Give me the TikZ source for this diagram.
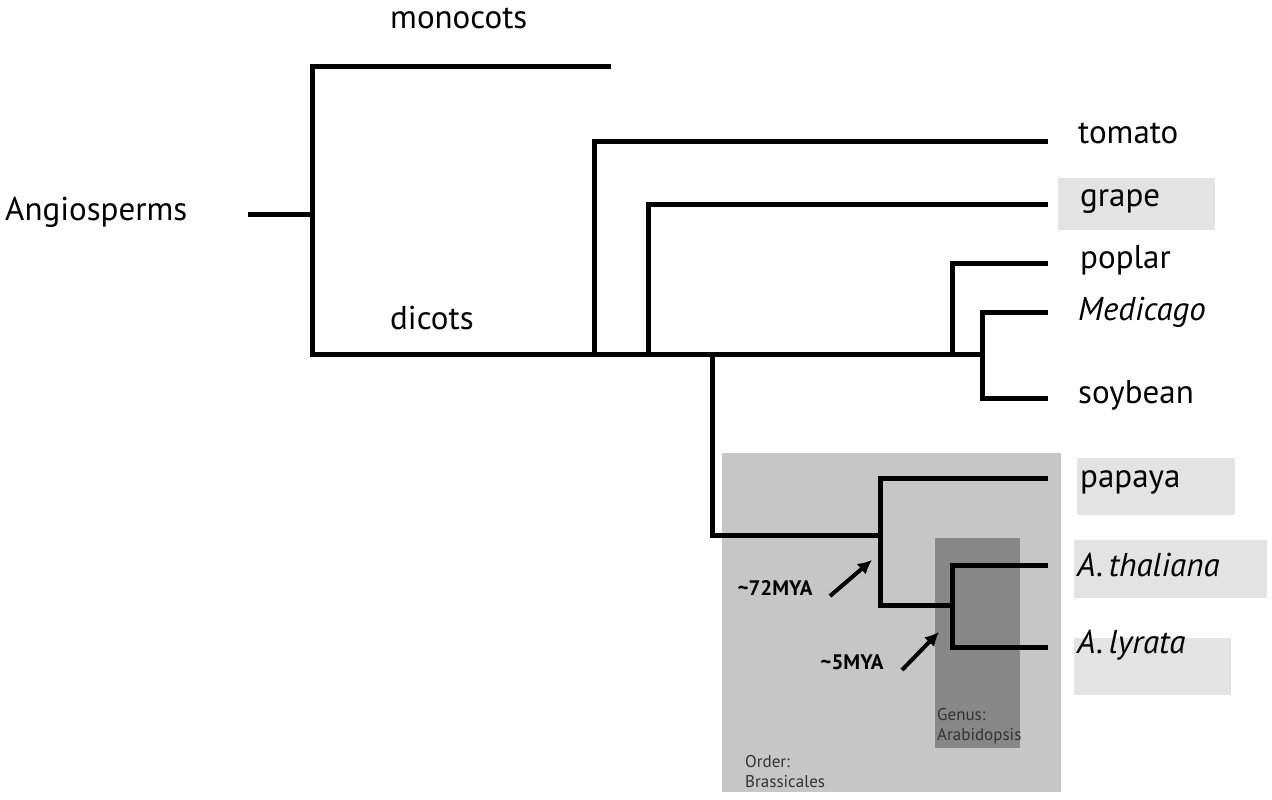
\documentclass[tikz,border=0pt]{standalone}
\usepackage{fontspec}
\setmainfont{PT Sans}
\begin{document}
\begin{tikzpicture}[x=1pt,y=-1pt,
  br/.style={line width=5pt,line cap=rect},
  lab/.style={anchor=west,font=\fontsize{33}{36}\selectfont,inner sep=0pt},
  lbox/.style={fill=gray!22,draw=none},
  mya/.style={font=\bfseries\fontsize{21}{24}\selectfont,inner sep=0pt},
  sm/.style={font=\fontsize{17}{20}\selectfont,text=black!80,align=left,anchor=north west,inner sep=0pt},
  arr/.style={line width=4pt,-{Latex[length=14pt,width=14pt]}}]
\usetikzlibrary{arrows.meta}
\useasboundingbox (0,0) rectangle (1272,800);
\fill[gray!45] (722,453) rectangle (1061,792);
\fill[gray!90!black!60] (935,538) rectangle (1020,748);
\fill[black!47] (935,538) rectangle (1020,748);
\fill[lbox] (1058,178) rectangle (1215,230);
\fill[lbox] (1077,458) rectangle (1235,515);
\fill[lbox] (1074,540) rectangle (1267,598);
\fill[lbox] (1074,638) rectangle (1231,695);
\node[lab] (ang) at (5,212) {Angiosperms};
\node[lab] (mono) at (390,18) {monocots};
\node[lab] (dic) at (390,318) {dicots};
\node[lab] (tom) at (1078,133) {tomato};
\node[lab] (gr) at (1080,202) {grape};
\node[lab] (pop) at (1080,260) {poplar};
\node[lab] (med) at (1078,312) {\itshape Medicago};
\node[lab] (soy) at (1078,395) {soybean};
\node[lab] (pap) at (1080,482) {papaya};
\node[lab] (ath) at (1077,565) {\itshape A.\,thaliana};
\node[lab] (aly) at (1077,645) {\itshape A.\,lyrata};
\draw[br] (250,214) -- (312,214);
\draw[br] (608,67) -- (312,67) -- (312,354) -- (952,354);
\draw[br] (594,354) -- (594,141) -- (1045,141);
\draw[br] (648,354) -- (648,204) -- (1045,204);
\draw[br] (952,354) -- (952,263) -- (1045,263);
\draw[br] (952,354) -- (982,354);
\draw[br] (1045,312) -- (982,312) -- (982,398) -- (1045,398);
\draw[br] (712,354) -- (712,535) -- (880,535);
\draw[br] (1045,478) -- (880,478) -- (880,605) -- (952,605);
\draw[br] (1045,565) -- (952,565) -- (952,647) -- (1045,647);
\node[mya] (m72) at (775,588) {\textasciitilde 72MYA};
\node[mya] (m5) at (852,662) {\textasciitilde 5MYA};
\coordinate (t72) at (872,560);
\coordinate (t5) at (939,632);
\draw[arr] (830,596) -- (t72);
\draw[arr] (902,670) -- (t5);
\node[sm] (gen) at (937,708) {Genus:\\Arabidopsis};
\node[sm] (ord) at (745,755) {Order:\\Brassicales};
\end{tikzpicture}
\end{document}
